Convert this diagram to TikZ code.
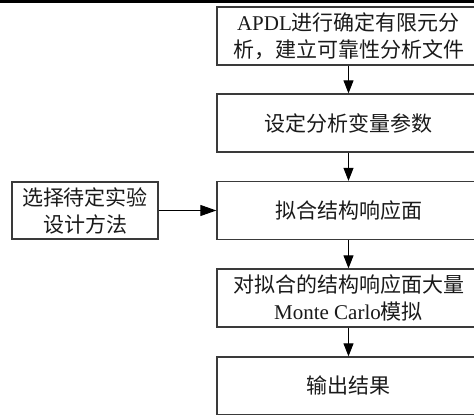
\documentclass[tikz,border=0pt]{standalone}
\usepackage{fontspec}
\setmainfont{Liberation Serif}
\newfontfamily\cjk{Noto Sans CJK SC}
\usetikzlibrary{arrows.meta}
\definecolor{edge}{HTML}{3A3A3A}
\definecolor{ink}{HTML}{1A1A1A}
\tikzset{
  flowbox/.style={draw=edge, line width=1.3pt, rectangle, minimum width=263pt, minimum height=58pt,
    inner sep=0pt, align=center, text=ink, font=\fontsize{21}{27}\selectfont},
  sidebox/.style={flowbox, minimum width=146pt, minimum height=57pt},
  flowarrow/.style={draw=black, line width=1pt, -{Triangle[length=13pt,width=10pt]}},
  sidearrow/.style={draw=black, line width=1pt, -{Triangle[length=16pt,width=11pt]}}
}
\begin{document}
\begin{tikzpicture}[x=1pt,y=-1pt]
\useasboundingbox (0,0) rectangle (474,415);
\clip (0,0) rectangle (474,415);
\draw[line width=3pt] (0,1.5) -- (474,1.5);
\node[flowbox] (b1) at (348.5,36) {APDL{\cjk 进行确定有限元分}\\{\cjk 析，建立可靠性分析文件}};
\node[flowbox] (b2) at (348.5,123) {\cjk 设定分析变量参数};
\node[flowbox] (b3) at (348.5,210.5) {\cjk 拟合结构响应面};
\node[flowbox] (b4) at (348.5,298) {{\cjk 对拟合的结构响应面大量}\\Monte Carlo{\cjk 模拟}};
\node[flowbox, minimum height=57.5pt] (b5) at (348.5,385.75) {\cjk 输出结果};
\node[sidebox] (s) at (85,210.5) {{\cjk 选择待定实验}\\{\cjk 设计方法}};
\draw[flowarrow] (b1) -- (b2);
\draw[flowarrow] (b2) -- (b3);
\draw[flowarrow] (b3) -- (b4);
\draw[flowarrow] (b4) -- (b5);
\draw[sidearrow] (s) -- (b3);
\end{tikzpicture}
\end{document}
